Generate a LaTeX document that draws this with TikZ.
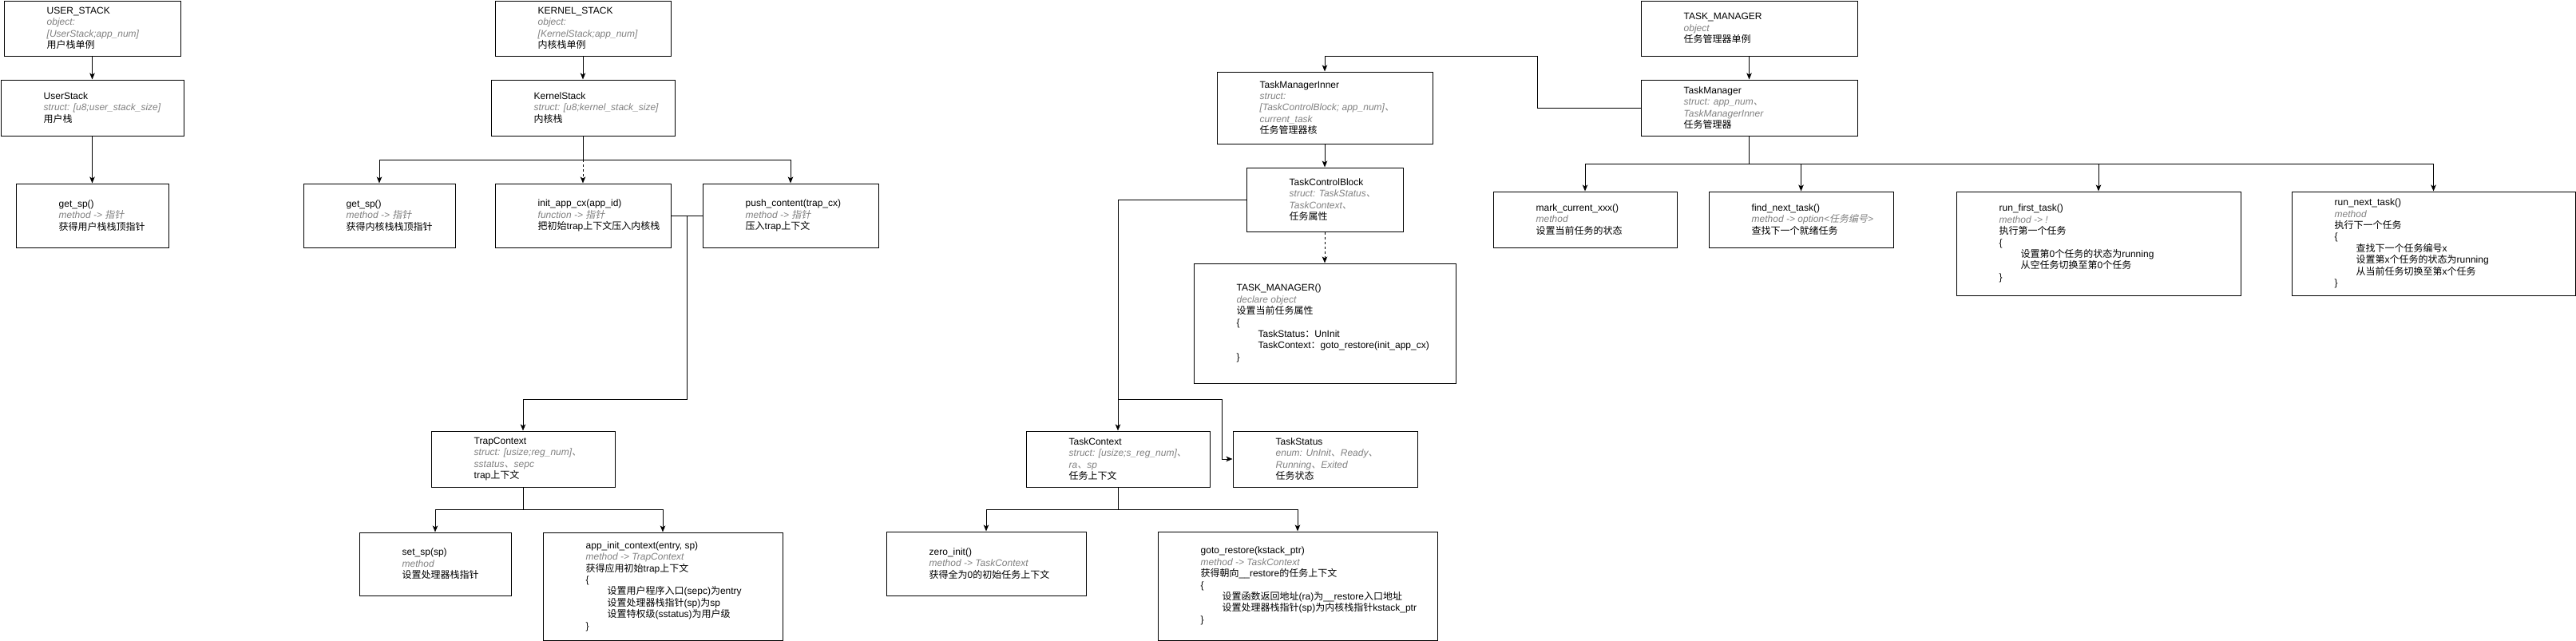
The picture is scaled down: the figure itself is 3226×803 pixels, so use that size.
\documentclass[tikz,border=0pt]{standalone}
\usepackage{fontspec}
\setmainfont{Liberation Sans}
\newfontfamily\zhfont{Noto Sans CJK SC}
\newfontfamily\zhitfont{Noto Sans CJK SC}[FakeSlant=0.2]
\usetikzlibrary{positioning,arrows.meta}
\definecolor{subgray}{HTML}{808080}
\newcommand{\zh}[1]{{\zhfont #1}}
\newcommand{\zhit}[1]{{\zhitfont #1}}
\newcommand{\mtxt}[1]{{\color{subgray}\itshape #1}}
\begin{document}
\begin{tikzpicture}[x=1pt, y=-1pt,
        box/.style={draw, line width=1pt, inner sep=0pt},
        txt/.style={inner sep=0pt, align=left, font=\fontsize{12pt}{14.4pt}\selectfont},
        lnk/.style={line width=1pt},
        arr/.style={line width=1pt, -{Stealth[length=8pt, width=6.5pt, inset=2pt]}},
        dsh/.style={dash pattern=on 3pt off 3pt}]
        \useasboundingbox (0,0) rectangle (3226,803);

        % user stack
        \node[box, minimum width=221pt, minimum height=69pt] (ustack) at (115.5,35.5) {};
        \node[txt, right=54pt of ustack.west] (ustack-t) {USER\_STACK\\\mtxt{object:}\\\mtxt{[UserStack;app\_num]}\\\zh{用户栈单例}};
        \node[box, minimum width=229pt, minimum height=70pt] (ustruct) at (115.5,135) {};
        \node[txt, right=54pt of ustruct.west] (ustruct-t) {UserStack\\\mtxt{struct: [u8;user\_stack\_size]}\\\zh{用户栈}};
        \node[box, minimum width=191pt, minimum height=80pt] (ugetsp) at (115.5,270) {};
        \node[txt, right=54pt of ugetsp.west] (ugetsp-t) {get\_sp()\\\mtxt{method -> \zhit{指针}}\\\zh{获得用户栈栈顶指针}};

        % kernel stack
        \node[box, minimum width=220pt, minimum height=69pt] (kstack) at (730,35.5) {};
        \node[txt, right=54pt of kstack.west] (kstack-t) {KERNEL\_STACK\\\mtxt{object:}\\\mtxt{[KernelStack;app\_num]}\\\zh{内核栈单例}};
        \node[box, minimum width=230pt, minimum height=70pt] (kstruct) at (730,135) {};
        \node[txt, right=54pt of kstruct.west] (kstruct-t) {KernelStack\\\mtxt{struct: [u8;kernel\_stack\_size]}\\\zh{内核栈}};
        \node[box, minimum width=190pt, minimum height=80pt] (kgetsp) at (475,270) {};
        \node[txt, right=54pt of kgetsp.west] (kgetsp-t) {get\_sp()\\\mtxt{method -> \zhit{指针}}\\\zh{获得内核栈栈顶指针}};
        \node[box, minimum width=220pt, minimum height=80pt] (kinit) at (730,270) {};
        \node[txt, right=54pt of kinit.west] (kinit-t) {init\_app\_cx(app\_id)\\\mtxt{function -> \zhit{指针}}\\\zh{把初始}trap\zh{上下文压入内核栈}};
        \node[box, minimum width=220pt, minimum height=80pt] (kpush) at (990,270) {};
        \node[txt, right=54pt of kpush.west] (kpush-t) {push\_content(trap\_cx)\\\mtxt{method -> \zhit{指针}}\\\zh{压入}trap\zh{上下文}};

        % trap context
        \node[box, minimum width=230pt, minimum height=70pt] (trapcx) at (655,575) {};
        \node[txt, right=54pt of trapcx.west] (trapcx-t) {TrapContext\\\mtxt{struct: [usize;reg\_num]\zhit{、}}\\\mtxt{sstatus\zhit{、}sepc}\\trap\zh{上下文}};
        \node[box, minimum width=190pt, minimum height=79pt] (setsp) at (545,706.5) {};
        \node[txt, right=54pt of setsp.west] (setsp-t) {set\_sp(sp)\\\mtxt{method}\\\zh{设置处理器栈指针}};
        \node[box, minimum width=300pt, minimum height=135pt] (appinit) at (830,734.5) {};
        \node[txt, right=54pt of appinit.west] (appinit-t) {app\_init\_context(entry, sp)\\\mtxt{method -> TrapContext}\\\zh{获得应用初始}trap\zh{上下文}\\\{\\\hspace*{27pt}\zh{设置用户程序入口}(sepc)\zh{为}entry\\\hspace*{27pt}\zh{设置处理器栈指针}(sp)\zh{为}sp\\\hspace*{27pt}\zh{设置特权级}(sstatus)\zh{为用户级}\\\}};

        % task manager inner
        \node[box, minimum width=270pt, minimum height=90pt] (tmi) at (1659,135) {};
        \node[txt, right=54pt of tmi.west] (tmi-t) {TaskManagerInner\\\mtxt{struct:}\\\mtxt{[TaskControlBlock; app\_num]\zhit{、}}\\\mtxt{current\_task}\\\zh{任务管理器核}};
        \node[box, minimum width=196pt, minimum height=80pt] (tcb) at (1659,250) {};
        \node[txt, right=54pt of tcb.west] (tcb-t) {TaskControlBlock\\\mtxt{struct: TaskStatus\zhit{、}}\\\mtxt{TaskContext\zhit{、}}\\\zh{任务属性}};
        \node[box, minimum width=328pt, minimum height=150pt] (tmdecl) at (1659,405) {};
        \node[txt, right=54pt of tmdecl.west] (tmdecl-t) {TASK\_MANAGER()\\\mtxt{declare object}\\\zh{设置当前任务属性}\\\{\\\hspace*{27pt}TaskStatus\zh{：}UnInit\\\hspace*{27pt}TaskContext\zh{：}goto\_restore(init\_app\_cx)\\\}};

        % task context and status
        \node[box, minimum width=230pt, minimum height=70pt] (taskcx) at (1400,575) {};
        \node[txt, right=54pt of taskcx.west] (taskcx-t) {TaskContext\\\mtxt{struct: [usize;s\_reg\_num]\zhit{、}}\\\mtxt{ra\zhit{、}sp}\\\zh{任务上下文}};
        \node[box, minimum width=231pt, minimum height=70pt] (taskst) at (1659.5,575) {};
        \node[txt, right=54pt of taskst.west] (taskst-t) {TaskStatus\\\mtxt{enum: UnInit\zhit{、}Ready\zhit{、}}\\\mtxt{Running\zhit{、}Exited}\\\zh{任务状态}};
        \node[box, minimum width=250pt, minimum height=80pt] (zeroinit) at (1235,706) {};
        \node[txt, right=54pt of zeroinit.west] (zeroinit-t) {zero\_init()\\\mtxt{method -> TaskContext}\\\zh{获得全为}0\zh{的初始任务上下文}};
        \node[box, minimum width=350pt, minimum height=136pt] (gotorest) at (1625,734) {};
        \node[txt, right=54pt of gotorest.west] (gotorest-t) {goto\_restore(kstack\_ptr)\\\mtxt{method -> TaskContext}\\\zh{获得朝向}\_\_restore\zh{的任务上下文}\\\{\\\hspace*{27pt}\zh{设置函数返回地址}(ra)\zh{为}\_\_restore\zh{入口地址}\\\hspace*{27pt}\zh{设置处理器栈指针}(sp)\zh{为内核栈指针}kstack\_ptr\\\}};

        % task manager
        \node[box, minimum width=271pt, minimum height=69pt] (tmobj) at (2190.5,35.5) {};
        \node[txt, right=54pt of tmobj.west] (tmobj-t) {TASK\_MANAGER\\\mtxt{object}\\\zh{任务管理器单例}};
        \node[box, minimum width=271pt, minimum height=70pt] (tm) at (2190.5,135) {};
        \node[txt, right=54pt of tm.west] (tm-t) {TaskManager\\\mtxt{struct: app\_num\zhit{、}}\\\mtxt{TaskManagerInner}\\\zh{任务管理器}};
        \node[box, minimum width=230pt, minimum height=70pt] (markcur) at (1985,275) {};
        \node[txt, right=54pt of markcur.west] (markcur-t) {mark\_current\_xxx()\\\mtxt{method}\\\zh{设置当前任务的状态}};
        \node[box, minimum width=231pt, minimum height=70pt] (findnext) at (2255.5,275) {};
        \node[txt, right=54pt of findnext.west] (findnext-t) {find\_next\_task()\\\mtxt{method -> option<\zhit{任务编号}>}\\\zh{查找下一个就绪任务}};
        \node[box, minimum width=356pt, minimum height=130pt] (runfirst) at (2628,305) {};
        \node[txt, right=54pt of runfirst.west] (runfirst-t) {run\_first\_task()\\\mtxt{method -> !}\\\zh{执行第一个任务}\\\{\\\hspace*{27pt}\zh{设置第}0\zh{个任务的状态为}running\\\hspace*{27pt}\zh{从空任务切换至第}0\zh{个任务}\\\}};
        \node[box, minimum width=355pt, minimum height=130pt] (runnext) at (3047.5,305) {};
        \node[txt, right=54pt of runnext.west] (runnext-t) {run\_next\_task()\\\mtxt{method}\\\zh{执行下一个任务}\\\{\\\hspace*{27pt}\zh{查找下一个任务编号}x\\\hspace*{27pt}\zh{设置第}x\zh{个任务的状态为}running\\\hspace*{27pt}\zh{从当前任务切换至第}x\zh{个任务}\\\}};

        % connectors
        \coordinate (kfork) at (730,200);
        \coordinate (kmerge) at (860,270);
        \coordinate (tbend) at (655,500);
        \coordinate (tfork) at (655,638);
        \coordinate (mbend) at (1925,70);
        \coordinate (sfork) at (1400,500);
        \coordinate (sbend) at (1530,575);
        \coordinate (cfork) at (1400,638);
        \coordinate (mfork) at (2190.5,205);

        \draw[arr] (ustack.south) -- (ustruct.north);
        \draw[arr] (ustruct.south) -- (ugetsp.north);

        \draw[arr] (kstack.south) -- (kstruct.north);
        \draw[lnk] (kstruct.south) -- (kfork);
        \draw[arr] (kfork) -| (kgetsp.north);
        \draw[arr, dsh] (kfork) -- (kinit.north);
        \draw[arr] (kfork) -| (kpush.north);
        \draw[lnk] (kpush.west) -- (kmerge);
        \draw[arr] (kinit.east) -- (kmerge) |- (tbend) -- (trapcx.north);

        \draw[lnk] (trapcx.south) -- (tfork);
        \draw[arr] (tfork) -| (setsp.north);
        \draw[arr] (tfork) -| (appinit.north);

        \draw[arr] (tm.west) -| (mbend) -| (tmi.north);
        \draw[arr] (tmi.south) -- (tcb.north);
        \draw[arr, dsh] (tcb.south) -- (tmdecl.north);
        \draw[arr] (tcb.west) -| (taskcx.north);
        \draw[arr] (sfork) -| (sbend) -- (taskst.west);

        \draw[lnk] (taskcx.south) -- (cfork);
        \draw[arr] (cfork) -| (zeroinit.north);
        \draw[arr] (cfork) -| (gotorest.north);

        \draw[arr] (tmobj.south) -- (tm.north);
        \draw[lnk] (tm.south) -- (mfork);
        \draw[arr] (mfork) -| (markcur.north);
        \draw[arr] (mfork) -| (findnext.north);
        \draw[arr] (mfork) -| (runfirst.north);
        \draw[arr] (mfork) -| (runnext.north);
    \end{tikzpicture}
\end{document}
